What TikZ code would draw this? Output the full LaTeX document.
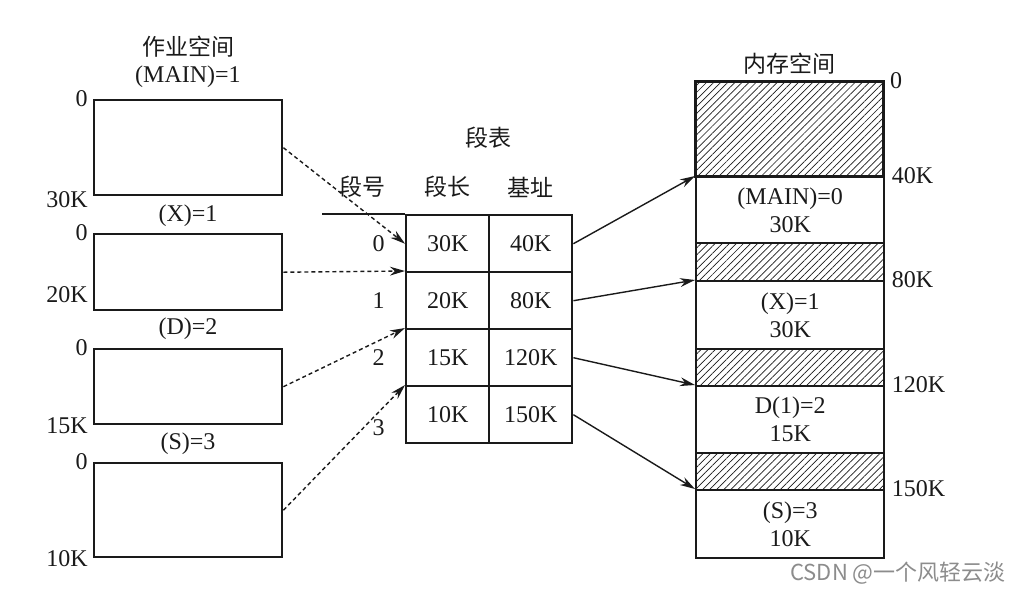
\documentclass[tikz,border=0pt]{standalone}
\usepackage{fontspec}
\setmainfont{Liberation Serif}
\newfontfamily\cjk{Noto Sans CJK SC}
\usetikzlibrary{arrows.meta, positioning, patterns.meta}
\definecolor{ink}{HTML}{1A1A1A}
\definecolor{mark}{HTML}{8C8C8C}
\tikzset{
  lbl/.style={inner sep=0pt, text=ink, font=\fontsize{12}{14}\selectfont},
  cjklbl/.style={inner sep=0pt, text=ink, font=\cjk\fontsize{11.5}{13}\selectfont},
  segbox/.style={draw=ink, line width=1.2pt, minimum width=94pt, inner sep=0pt, anchor=north west},
  cell/.style={draw=ink, line width=1.2pt, minimum width=41.5pt, minimum height=28.5pt,
    inner sep=0pt, anchor=north west, text=ink, font=\fontsize{12}{14}\selectfont},
  hole/.style={segbox, pattern={Lines[angle=45, distance=2.5pt, line width=0.35pt]}, pattern color=ink},
  memseg/.style={segbox, align=center, text=ink, font=\fontsize{12}{14}\selectfont},
  tabline/.style={draw=ink, line width=0.9pt},
  linkarrow/.style={-{Stealth[length=7.5pt, width=4.4pt]}, line width=0.7pt, draw=ink},
  jobarrow/.style={linkarrow, dash pattern=on 2pt off 1.5pt}
}

\begin{document}
\begin{tikzpicture}[x=0.5pt, y=-0.5pt]
  \useasboundingbox (0,0) rectangle (1010,591);

  % ---- Job space -----------------------------------------------------------
  \node[cjklbl] (jobttl) at (188,47) {作业空间};
  \node[segbox, minimum height=47.5pt] (main) at (93,99) {};
  \node[segbox, minimum height=38pt] (segx) at (93,233) {};
  \node[segbox, minimum height=37.5pt] (segd) at (93,348) {};
  \node[segbox, minimum height=47pt] (segs) at (93,462) {};

  \node[lbl] (mainttl) at (188,77) {(MAIN)=1};
  \node[lbl] (xttl) at (188,216) {(X)=1};
  \node[lbl] (dttl) at (188,329) {(D)=2};
  \node[lbl] (sttl) at (188,444) {(S)=3};

  % ---- Addresses beside the job segments -----------------------------------
  \node[lbl, left=2.5pt of main.north west] (main0) {0};
  \node[lbl, left=2.5pt of main.south west, yshift=-1.5pt] (mainend) {30K};
  \node[lbl, left=2.5pt of segx.north west] (x0) {0};
  \node[lbl, left=2.5pt of segx.south west, yshift=8.5pt] (xend) {20K};
  \node[lbl, left=2.5pt of segd.north west] (d0) {0};
  \node[lbl, left=2.5pt of segd.south west] (dend) {15K};
  \node[lbl, left=2.5pt of segs.north west] (s0) {0};
  \node[lbl, left=2.5pt of segs.south west] (send) {10K};

  % ---- Segment table -------------------------------------------------------
  \foreach \len/\base [count=\i from 0] in {30K/40K, 20K/80K, 15K/120K, 10K/150K} {
    \node[cell] (len\i) at (405, 214+57*\i) {\len};
    \node[cell] (base\i) at (488, 214+57*\i) {\base};
  }
  \node[cjklbl] (tabttl) at (488,138) {段表};
  \node[cjklbl, above=8pt of len0] (hdrlen) {段长};
  \node[cjklbl, above=8pt of base0] (hdrbase) {基址};
  \node[cjklbl, left=19pt of hdrlen] (hdrno) {段号};
  \coordinate (tabin) at (322,214);
  \draw[tabline] (tabin) -- (len0.north west);

  \foreach \i in {0,1,2} {
    \node[lbl, left=10pt of len\i] (row\i) {\i};
  }
  \node[lbl, left=10pt of len3, yshift=-6.25pt] (row3) {3};

  % ---- Memory space --------------------------------------------------------
  \node[hole, minimum height=47.5pt] (hole0) at (695,81) {};
  \node[memseg, minimum height=33pt] (seg0) at (695,176) {(MAIN)=0\\30K};
  \node[hole, minimum height=19pt] (hole1) at (695,242) {};
  \node[memseg, minimum height=34pt] (seg1) at (695,280) {(X)=1\\30K};
  \node[hole, minimum height=18.5pt] (hole2) at (695,348) {};
  \node[memseg, minimum height=33.5pt] (seg2) at (695,385) {D(1)=2\\15K};
  \node[hole, minimum height=18.5pt] (hole3) at (695,452) {};
  \node[memseg, minimum height=34pt] (seg3) at (695,489) {(S)=3\\10K};
  \node[cjklbl, above=3pt of hole0] (memttl) {内存空间};

  \node[lbl, right=3pt of hole0.north east] (m0) {0};
  \node[lbl, right=3pt of seg0.north east] (m40) {40K};
  \node[lbl, right=3pt of seg1.north east] (m80) {80K};
  \node[lbl, right=3pt of seg2.north east] (m120) {120K};
  \node[lbl, right=3pt of seg3.north east] (m150) {150K};

  % ---- Job segments into the table -----------------------------------------
  \draw[jobarrow] (main.east) -- (len0.west);
  \draw[jobarrow] (segx.east) -- (len1.north west);
  \draw[jobarrow] (segd.east) -- (len2.north west);
  \draw[jobarrow] (segs.east) -- (len3.north west);

  % ---- Table into memory ---------------------------------------------------
  \foreach \i in {0,1,2,3} {
    \draw[linkarrow] (base\i.east) -- (seg\i.north west);
  }

  \node[font=\cjk\fontsize{11}{13}\selectfont, text=mark, inner sep=0pt] (csdn) at (898,573) {CSDN @一个风轻云淡};
\end{tikzpicture}
\end{document}
